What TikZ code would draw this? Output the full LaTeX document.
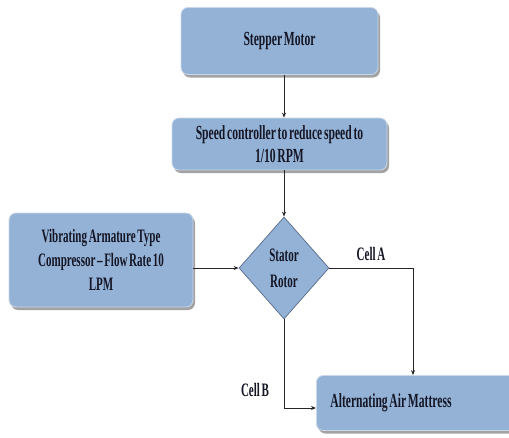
\documentclass[tikz,border=0pt]{standalone}
\usepackage{fontspec}
\setmainfont{Liberation Serif}
\newfontfamily\condfont[FakeStretch=0.58,WordSpace=0.6,Ligatures=TeX]{Liberation Serif}
\usetikzlibrary{shapes.geometric,arrows.meta,shadows}
\definecolor{boxblue}{HTML}{94B2D6}
\definecolor{boxedge}{HTML}{C9D7EA}
\definecolor{txt}{HTML}{141626}
\definecolor{diaedge}{HTML}{5F7390}
\tikzset{
  x=1pt,y=-1pt,
  box/.style={rectangle,rounded corners=7pt,fill=boxblue,draw=boxedge,line width=0.8pt,
    inner sep=0pt,align=center,text=txt,font=\condfont\bfseries\fontsize{20}{23.5}\selectfont,
    drop shadow={shadow xshift=2pt,shadow yshift=-3pt,fill=black!45,opacity=0.8}},
  dia/.style={diamond,fill=boxblue,draw=diaedge,line width=0.8pt,inner sep=0pt,aspect=0.88,
    minimum width=90pt,minimum height=102pt,align=center,text=txt,font=\condfont\bfseries\fontsize{19}{26}\selectfont},
  conn/.style={draw=black!85,line width=0.7pt},
  arr/.style={conn,-{Stealth[length=5pt,width=4pt]}},
  lab/.style={text=txt,font=\condfont\bfseries\fontsize{19}{20}\selectfont,inner sep=0pt}
}
\begin{document}
\begin{tikzpicture}
\useasboundingbox (0,0) rectangle (509,437);
\node[box,minimum width=197pt,minimum height=67pt] (stepper) at (279.5,41) {Stepper Motor};
\node[box,minimum width=215pt,minimum height=52pt] (speed) at (279.5,144) {Speed controller to reduce speed to\\1/10 RPM};
\node[box,minimum width=184pt,minimum height=94pt,font=\condfont\bfseries\fontsize{19}{24}\selectfont] (comp) at (101,260) {Vibrating Armature Type\\Compressor – Flow Rate 10\\LPM};
\node[dia] (stator) at (284,268) {Stator\\Rotor};
\node[box,anchor=west,minimum height=55pt,minimum width=199pt,inner xsep=14pt,text width=171pt,align=flush left] (matt) at (316,403) {Alternating Air Mattress};
\coordinate (ca) at (413,268);
\coordinate (cb) at (284,408);
\draw[arr] (stepper.south -| stator.north) -- (speed.north -| stator.north);
\draw[arr] (speed.south -| stator.north) -- (stator.north);
\draw[arr] (comp.east |- stator.west) -- (stator.west);
\draw[conn] (stator.east) -- (ca);
\draw[arr] (ca) -- (matt.north -| ca);
\draw[conn] (stator.south) -- (cb);
\draw[arr] (cb) -- (cb -| matt.west);
\node[lab] (cellA) at (371,254) {Cell A};
\node[lab] (cellB) at (255,390) {Cell B};
\end{tikzpicture}
\end{document}
